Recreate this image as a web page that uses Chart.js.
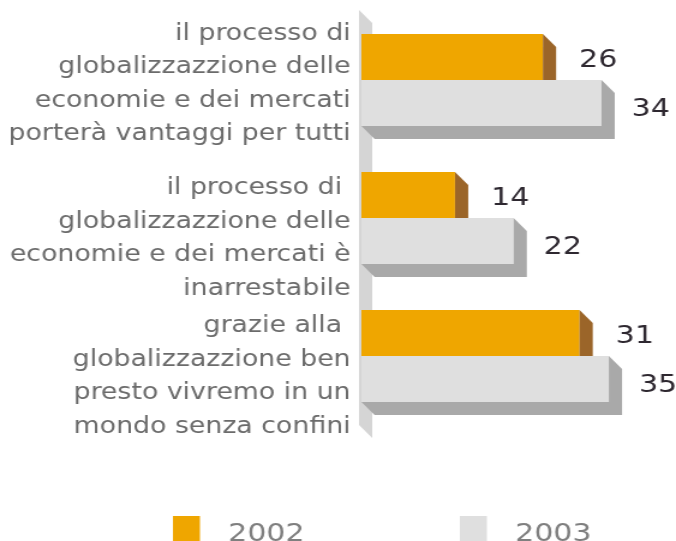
<!DOCTYPE html>
<html>
<head>
<meta charset="utf-8">
<script src="https://cdn.jsdelivr.net/npm/chart.js@4/dist/chart.umd.min.js"></script>
<style>
  html, body { margin: 0; padding: 0; background: #fff; overflow: hidden; }
</style>
</head>
<body>
<!-- il grafico originale è allargato in orizzontale: disegno a 563px e stiro a 676px -->
<canvas id="chart" width="563" height="541" style="width:676px;height:541px"></canvas>
<script>
// dati
// (la riga vuota iniziale abbassa il blocco di testo come nell'originale)
const categories = [
    ['il processo di', 'globalizzazzione delle', 'economie e dei mercati', 'porterà vantaggi per tutti'],
    ['', 'il processo di ', 'globalizzazzione delle', 'economie e dei mercati è', 'inarrestabile'],
    ['', 'grazie alla ', 'globalizzazzione ben', 'presto vivremo in un', 'mondo senza confini']
];
const seriesNames = ['2002', '2003'];
const values2002 = [26, 14, 31];
const values2003 = [34, 22, 35];

const frontColors = ['#efa600', '#dfdfdf'];
const sideColors = ['#9b6529', '#a9a9a9'];
const dx = 11, dy = 13; // profondità 3D
const labelDx = [46, 41], labelDy = [3.5, 6.5];

// effetto 3D: parete, facce laterali, etichette e legenda
const bar3d = {
    id: 'bar3d',
    beforeDatasetsDraw(chart) {
        const { ctx, chartArea } = chart;
        const l = chartArea.left - 2, t = chartArea.top - 1, b = chartArea.bottom;
        ctx.save();
        ctx.fillStyle = '#d5d5d5';
        ctx.beginPath();
        ctx.moveTo(l, t);
        ctx.lineTo(l + dx, t + dy);
        ctx.lineTo(l + dx, b + dy);
        ctx.lineTo(l, b);
        ctx.closePath();
        ctx.fill();
        ctx.restore();
    },
    afterDatasetsDraw(chart) {
        const ctx = chart.ctx;
        const left = chart.chartArea.left;
        ctx.save();
        chart.data.datasets.forEach((ds, di) => {
            const meta = chart.getDatasetMeta(di);
            meta.data.forEach((el, i) => {
                const p = el.getProps(['x', 'y', 'base', 'height'], true);
                const x = p.x, y = p.y, base = Math.max(p.base, left);
                const top = y - p.height / 2, bottom = y + p.height / 2;
                ctx.fillStyle = sideColors[di];
                ctx.beginPath();
                ctx.moveTo(x, top);
                ctx.lineTo(x + dx, top + dy);
                if (di === 0) {
                    ctx.lineTo(x + dx, bottom);
                } else {
                    ctx.lineTo(x + dx, bottom + dy);
                    ctx.lineTo(base + dx, bottom + dy);
                    ctx.lineTo(base, bottom);
                }
                ctx.lineTo(x, bottom);
                ctx.closePath();
                ctx.fill();

                // valore
                ctx.fillStyle = '#2e2830';
                ctx.font = '25px "DejaVu Sans"';
                ctx.textAlign = 'center';
                ctx.textBaseline = 'middle';
                ctx.fillText(String(ds.data[i]), x + labelDx[di], y + labelDy[di]);
            });
        });
        ctx.restore();
    },
    afterDraw(chart) {
        // legenda in basso
        const ctx = chart.ctx;
        ctx.save();
        ctx.font = '25px "DejaVu Sans"';
        ctx.textBaseline = 'alphabetic';
        ctx.textAlign = 'left';
        const xs = [144, 383];
        seriesNames.forEach((name, i) => {
            ctx.fillStyle = frontColors[i];
            ctx.fillRect(xs[i], 516, 22.5, 26);
            ctx.fillStyle = '#7f7f7f';
            ctx.fillText(name, xs[i] + 46, 541);
        });
        ctx.restore();
    }
};

const ctx = document.getElementById('chart').getContext('2d');
const chart = new Chart(ctx, {
    type: 'bar',
    data: {
        labels: categories,
        datasets: [
            { label: seriesNames[0], data: values2002, backgroundColor: frontColors[0] },
            { label: seriesNames[1], data: values2003, backgroundColor: frontColors[1] }
        ]
    },
    options: {
        indexAxis: 'y',
        responsive: false,
        animation: false,
        devicePixelRatio: 1,
        datasets: {
            bar: { categoryPercentage: 0.667, barPercentage: 1, borderWidth: 0 }
        },
        layout: { padding: { left: 0, right: 1, top: 11, bottom: 116 } },
        plugins: {
            legend: { display: false },
            tooltip: { enabled: false }
        },
        scales: {
            x: { display: false, min: 1.23, max: 44 },
            y: {
                grid: { display: false, drawTicks: false },
                border: { display: false },
                afterFit(scale) {
                    scale.width = 301;
                    scale.paddingTop = 0;
                    scale.paddingBottom = 0;
                },
                ticks: {
                    color: '#6b6b6b',
                    padding: 9,
                    labelOffset: 4,
                    autoSkip: false,
                    font: { family: 'DejaVu Sans', size: 22.3, lineHeight: 33.5 / 22.3 }
                }
            }
        }
    },
    plugins: [bar3d]
});
</script>
</body>
</html>
